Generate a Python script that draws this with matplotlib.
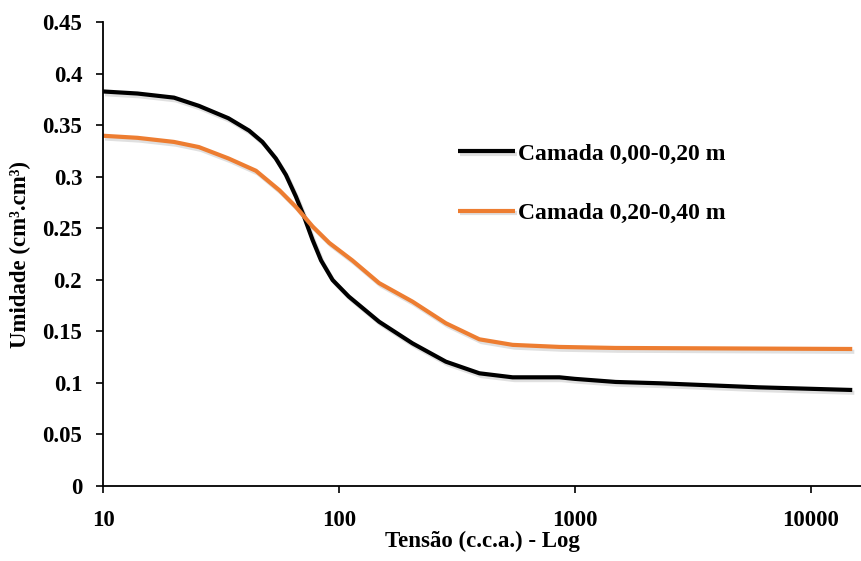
import matplotlib
matplotlib.use('Agg')
import matplotlib.pyplot as plt
import matplotlib.patheffects as pe
from matplotlib.ticker import FixedLocator, FuncFormatter, NullLocator

tensao_1 = [10, 14, 20, 25.5, 34, 41.6, 47.4, 54, 59.6, 65.7, 71.3, 77.3, 84, 94, 110, 148,
            205, 284, 394, 545, 861, 1000, 1490, 2300, 6000, 15000]
umidade_1 = [0.383, 0.381, 0.377, 0.369, 0.357, 0.345, 0.334, 0.318, 0.302, 0.281, 0.261,
             0.239, 0.219, 0.200, 0.184, 0.1595, 0.1385, 0.1207, 0.1094, 0.1055, 0.1055,
             0.104, 0.101, 0.0997, 0.0958, 0.0932]

tensao_2 = [10, 14, 20, 25.5, 34, 44.5, 56, 65.7, 77.3, 91, 114, 148, 205, 284, 394, 545,
            861, 1490, 15000]
umidade_2 = [0.340, 0.338, 0.334, 0.329, 0.318, 0.306, 0.287, 0.271, 0.252, 0.236, 0.219,
             0.197, 0.179, 0.158, 0.1424, 0.137, 0.135, 0.134, 0.133]

rotulos = ['Camada 0,00-0,20 m', 'Camada 0,20-0,40 m']
cores = ['#000000', '#ED7D31']
x_ticks = [10, 100, 1000, 10000]
y_ticks = [0, 0.05, 0.1, 0.15, 0.2, 0.25, 0.3, 0.35, 0.4, 0.45]

plt.rcParams['font.family'] = ['Liberation Serif', 'DejaVu Serif']
plt.rcParams['font.weight'] = 'bold'

fig = plt.figure(figsize=(8.62, 5.61), dpi=100)
ax = fig.add_axes([0.1195, 0.1337, 0.8805, 0.8263])

sombra = [pe.SimpleLineShadow(offset=(1.5, -2), shadow_color='#999999', alpha=0.3),
          pe.Normal()]
ax.plot(tensao_1, umidade_1, color=cores[0], lw=3, label=rotulos[0],
        solid_capstyle='butt', solid_joinstyle='round', path_effects=sombra)
ax.plot(tensao_2, umidade_2, color=cores[1], lw=3, label=rotulos[1],
        solid_capstyle='butt', solid_joinstyle='round', path_effects=sombra)

ax.set_xscale('log')
ax.set_xlim(10, 16500)
ax.set_ylim(0, 0.45)
ax.xaxis.set_major_locator(FixedLocator(x_ticks))
ax.xaxis.set_minor_locator(NullLocator())
ax.xaxis.set_major_formatter(FuncFormatter(lambda v, p: f'{v:g}'))
ax.yaxis.set_major_locator(FixedLocator(y_ticks))
ax.yaxis.set_major_formatter(FuncFormatter(lambda v, p: f'{v:g}'))

for lado in ['top', 'right']:
    ax.spines[lado].set_visible(False)
for lado in ['left', 'bottom']:
    ax.spines[lado].set_linewidth(1.3)
ax.tick_params(direction='out', length=5, width=1.2, labelsize=16.5)
ax.tick_params(axis='x', pad=12)
ax.tick_params(axis='y', pad=10)

ax.set_xlabel('Tensão (c.c.a.) - Log', fontsize=16.5, fontweight='bold', labelpad=0)
ax.set_ylabel('Umidade (cm³.cm³)', fontsize=16.5, fontweight='bold', labelpad=8)

ax.legend(loc='upper left', bbox_to_anchor=(0.468, 0.74), frameon=False,
          handlelength=2.4, handletextpad=0.15, labelspacing=1.6,
          borderpad=0, borderaxespad=0,
          prop={'weight': 'bold', 'size': 17})

fig.savefig('out.png', dpi=100)
